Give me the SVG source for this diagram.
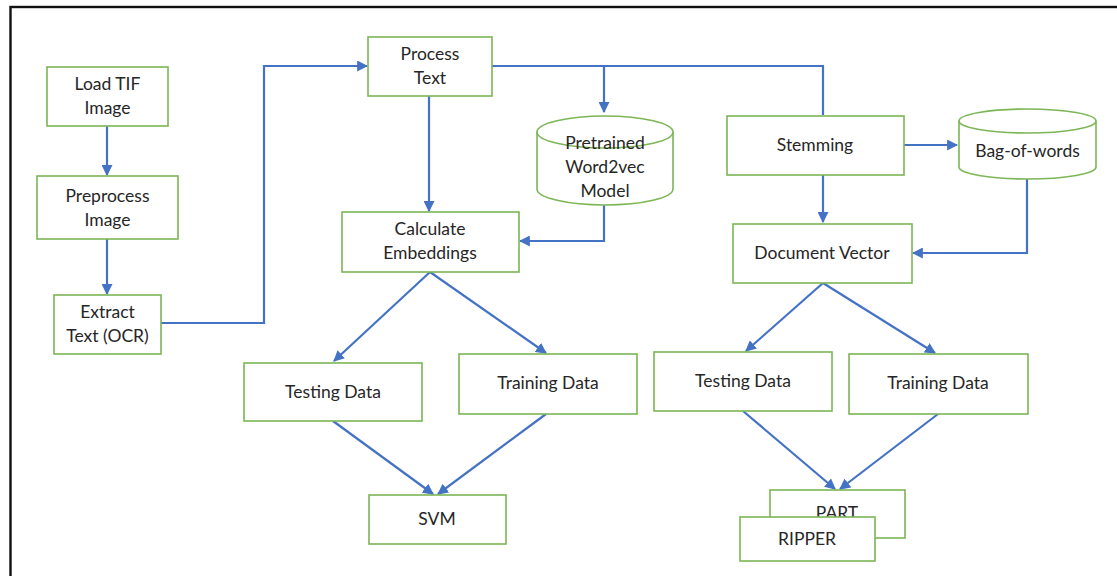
<svg xmlns="http://www.w3.org/2000/svg" width="1117" height="576" viewBox="0 0 1117 576">
  <style>
    .box { fill: #ffffff; stroke: #7cb655; stroke-width: 1.6; }
    .lbl { font-family: Lato, "Liberation Sans", sans-serif; font-size: 17.5px; fill: #262626; text-anchor: middle; }
    .wire { fill: none; stroke: #4472c4; stroke-width: 2.2; marker-end: url(#head); }
    .wire-plain { fill: none; stroke: #4472c4; stroke-width: 2.2; }
  </style>
  <defs>
    <marker id="head" viewBox="0 0 10 10" refX="9" refY="5" markerWidth="5" markerHeight="5" orient="auto" markerUnits="strokeWidth">
      <path d="M0,0 L10,5 L0,10 z" fill="#4472c4"/>
    </marker>
  </defs>

  <rect x="0" y="0" width="1117" height="576" fill="#ffffff"/>
  <!-- outer frame -->
  <rect x="10.5" y="7" width="1130" height="600" fill="none" stroke="#111" stroke-width="2.4"/>

  <g id="connectors">
    <path class="wire" d="M107,126 V175"/>
    <path class="wire" d="M107,239 V294"/>
    <path class="wire" d="M161,323 H264 V66 H367"/>
    <path class="wire-plain" d="M492,66 H823 V115"/>
    <path class="wire" d="M604,66 V112"/>
    <path class="wire" d="M429,96 V211"/>
    <path class="wire" d="M604,205 V241 H520"/>
    <path class="wire" d="M904,145 H957"/>
    <path class="wire" d="M823,175 V222"/>
    <path class="wire" d="M1027,179 V253 H913"/>
    <path class="wire" d="M430,272 L334,361"/>
    <path class="wire" d="M430,272 L546,353"/>
    <path class="wire" d="M333,421 L433,494"/>
    <path class="wire" d="M546,414 L438,494"/>
    <path class="wire" d="M823,283 L746,351"/>
    <path class="wire" d="M823,283 L935,353"/>
    <path class="wire" d="M743,411 L835,489"/>
    <path class="wire" d="M938,414 L840,489"/>
  </g>

  <g id="load-tif">
    <rect class="box" x="47" y="67" width="121" height="59"/>
    <text class="lbl" x="107.5" y="90">Load TIF</text>
    <text class="lbl" x="107.5" y="114">Image</text>
  </g>
  <g id="preprocess">
    <rect class="box" x="37" y="176" width="141" height="63"/>
    <text class="lbl" x="107.5" y="202">Preprocess</text>
    <text class="lbl" x="107.5" y="226">Image</text>
  </g>
  <g id="extract">
    <rect class="box" x="54" y="295" width="107" height="59"/>
    <text class="lbl" x="107.5" y="318">Extract</text>
    <text class="lbl" x="107.5" y="342">Text (OCR)</text>
  </g>
  <g id="process-text">
    <rect class="box" x="368" y="37" width="124" height="59"/>
    <text class="lbl" x="430" y="60">Process</text>
    <text class="lbl" x="430" y="84">Text</text>
  </g>
  <g id="word2vec">
    <path class="box" d="M537,132 V189 A68,16 0 0 0 673,189 V132"/>
    <ellipse class="box" cx="605" cy="132" rx="68" ry="16"/>
    <text class="lbl" x="605" y="149">Pretrained</text>
    <text class="lbl" x="605" y="173">Word2vec</text>
    <text class="lbl" x="605" y="197">Model</text>
  </g>
  <g id="embeddings">
    <rect class="box" x="342" y="212" width="177" height="60"/>
    <text class="lbl" x="430" y="235">Calculate</text>
    <text class="lbl" x="430" y="259">Embeddings</text>
  </g>
  <g id="stemming">
    <rect class="box" x="727" y="116" width="177" height="59"/>
    <text class="lbl" x="815" y="151">Stemming</text>
  </g>
  <g id="bag-of-words">
    <path class="box" d="M959,121 V167 A68.5,12 0 0 0 1096,167 V121"/>
    <ellipse class="box" cx="1027.5" cy="121" rx="68.5" ry="12"/>
    <text class="lbl" x="1027.5" y="157">Bag-of-words</text>
  </g>
  <g id="doc-vector">
    <rect class="box" x="733" y="224" width="179" height="59"/>
    <text class="lbl" x="822" y="259">Document Vector</text>
  </g>
  <g id="testing-left">
    <rect class="box" x="244" y="363" width="178" height="58"/>
    <text class="lbl" x="333" y="398">Testing Data</text>
  </g>
  <g id="training-left">
    <rect class="box" x="459" y="354" width="178" height="60"/>
    <text class="lbl" x="548" y="389">Training Data</text>
  </g>
  <g id="svm">
    <rect class="box" x="369" y="495" width="137" height="49"/>
    <text class="lbl" x="437" y="525">SVM</text>
  </g>
  <g id="testing-right">
    <rect class="box" x="654" y="352" width="178" height="59"/>
    <text class="lbl" x="743" y="387">Testing Data</text>
  </g>
  <g id="training-right">
    <rect class="box" x="849" y="354" width="179" height="60"/>
    <text class="lbl" x="938" y="389">Training Data</text>
  </g>
  <g id="part">
    <rect class="box" x="770" y="490" width="135" height="48"/>
    <text class="lbl" x="837" y="519">PART</text>
  </g>
  <g id="ripper">
    <rect class="box" x="740" y="517" width="135" height="44"/>
    <text class="lbl" x="807" y="545">RIPPER</text>
  </g>
</svg>
